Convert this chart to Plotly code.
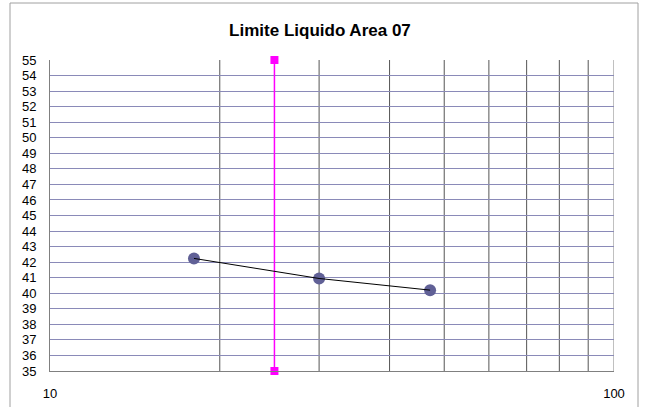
import plotly.graph_objects as go

# Liquid limit test: blow count vs. moisture content
golpes = [18.0, 30.0, 47.2]
humedad = [42.24, 40.95, 40.2]

# Reference line at 25 blows
ref_x = [25, 25]
ref_y = [35, 55]

y_ticks = list(range(35, 56))
x_ticks = [10, 100]
x_minor = [20, 30, 40, 50, 60, 70, 80, 90]

W, H = 649, 407
ML, MR, MT, MB = 50, 35, 60, 36
pw, ph = W - ML - MR, H - MT - MB

font_fam = "Liberation Sans Narrow, Liberation Sans, Arial, sans-serif"

fig = go.Figure()

fig.add_trace(go.Scatter(
    x=ref_x, y=ref_y, mode="lines+markers",
    line=dict(color="#FF00FF", width=1.5),
    marker=dict(symbol="square", size=8, color="#FF00FF"),
    cliponaxis=False, showlegend=False,
))
fig.add_trace(go.Scatter(
    x=golpes, y=humedad, mode="markers",
    marker=dict(symbol="circle", size=12, color="#606096"),
    showlegend=False,
))
fig.add_trace(go.Scatter(
    x=golpes, y=humedad, mode="lines",
    line=dict(color="#000000", width=1),
    showlegend=False,
))

# vertical grid at intermediate decade values
for xv in x_minor:
    fig.add_shape(type="line", xref="x", yref="paper", x0=xv, x1=xv, y0=0, y1=1,
                  line=dict(color="#555555", width=1), layer="below")
# right edge at 100
fig.add_shape(type="line", xref="x", yref="paper", x0=100, x1=100, y0=0, y1=1,
              line=dict(color="#808080", width=1), layer="below")

# outer chart frame
def px_x(p):
    return (p - ML) / pw

def px_y(p):
    return (H - MB - p) / ph

fig.add_shape(type="rect", xref="paper", yref="paper",
              x0=px_x(10), x1=px_x(638), y0=px_y(440), y1=px_y(3),
              line=dict(color="#A0A0A0", width=1), fillcolor="rgba(0,0,0,0)")

fig.update_layout(
    width=W, height=H,
    margin=dict(l=ML, r=MR, t=MT, b=MB, autoexpand=False),
    paper_bgcolor="white", plot_bgcolor="white",
    title=dict(text="<b>Limite Liquido Area 07</b>", x=0.493, xanchor="center",
               y=1 - 30 / H, yanchor="middle",
               font=dict(family="Liberation Sans, Arial, sans-serif", size=17, color="#000000")),
    font=dict(family=font_fam, size=12, color="#000000"),
)

fig.update_xaxes(
    type="log", range=[1, 2], automargin=False,
    tickvals=x_ticks, ticktext=[str(v) for v in x_ticks],
    showgrid=False, zeroline=False,
    showline=True, linecolor="#808080", linewidth=1,
    ticks="", ticklabelstandoff=10,
    tickfont=dict(family=font_fam, size=13),
)
fig.update_yaxes(
    range=[35, 55], automargin=False,
    tickvals=y_ticks, ticktext=[str(v) for v in y_ticks],
    showgrid=True, gridcolor="#8A8AB8", gridwidth=1,
    zeroline=False, showline=True, linecolor="#808080", linewidth=1,
    ticks="", ticklabelstandoff=10,
    tickfont=dict(family=font_fam, size=13),
)

fig.write_html("out.html")
